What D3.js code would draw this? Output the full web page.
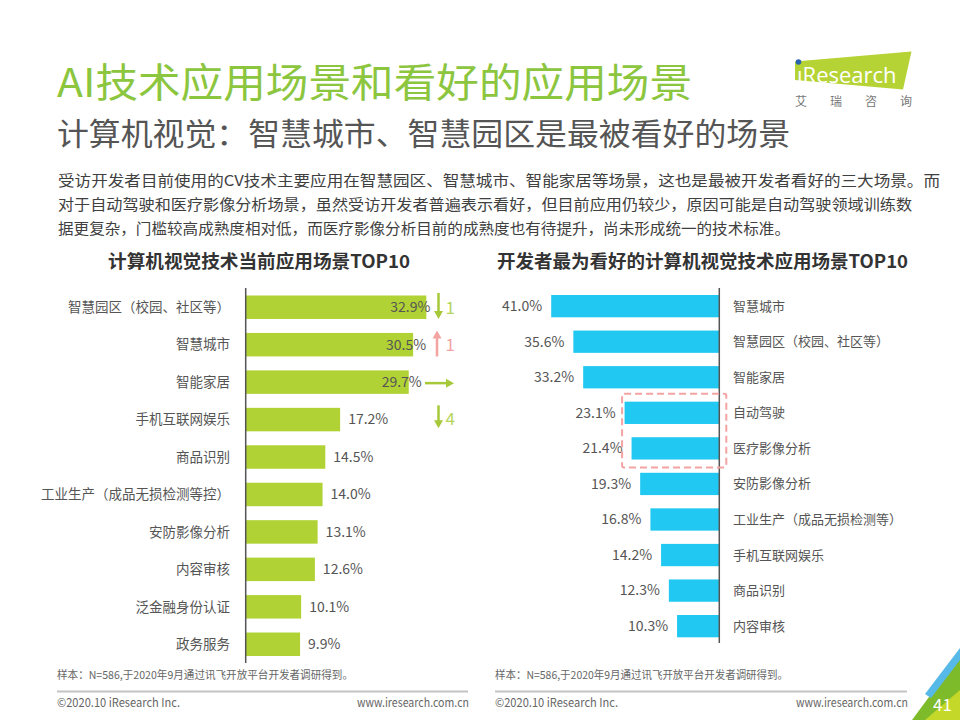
<!DOCTYPE html>
<html><head><meta charset="utf-8">
<script src="https://cdn.jsdelivr.net/npm/d3@7"></script>
<style>
html,body{margin:0;padding:0;background:#fff;}
svg{display:block;font-family:"Noto Sans CJK SC","Noto Sans",sans-serif;}
</style></head>
<body>
<svg id="chart" width="960" height="720"></svg>
<script>
// ---------- data ----------
const leftCategories = ["智慧园区（校园、社区等）","智慧城市","智能家居","手机互联网娱乐","商品识别","工业生产（成品无损检测等控）","安防影像分析","内容审核","泛金融身份认证","政务服务"];
const leftValues = [32.9,30.5,29.7,17.2,14.5,14.0,13.1,12.6,10.1,9.9];
const rankChangeDir = ["down","up","flat","down"];
const rankChangeText = ["1","1","","4"];

const rightCategories = ["智慧城市","智慧园区（校园、社区等）","智能家居","自动驾驶","医疗影像分析","安防影像分析","工业生产（成品无损检测等）","手机互联网娱乐","商品识别","内容审核"];
const rightValues = [41.0,35.6,33.2,23.1,21.4,19.3,16.8,14.2,12.3,10.3];
const highlighted = ["自动驾驶","医疗影像分析"];

const titleText = "AI技术应用场景和看好的应用场景";
const subtitleText = "计算机视觉：智慧城市、智慧园区是最被看好的场景";
const paragraphLines = [
  "受访开发者目前使用的CV技术主要应用在智慧园区、智慧城市、智能家居等场景，这也是最被开发者看好的三大场景。而",
  "对于自动驾驶和医疗影像分析场景，虽然受访开发者普遍表示看好，但目前应用仍较少，原因可能是自动驾驶领域训练数",
  "据更复杂，门槛较高成熟度相对低，而医疗影像分析目前的成熟度也有待提升，尚未形成统一的技术标准。"
];
const leftTitle = "计算机视觉技术当前应用场景TOP10";
const rightTitle = "开发者最为看好的计算机视觉技术应用场景TOP10";
const sourceNote = "样本：N=586,于2020年9月通过讯飞开放平台开发者调研得到。";
const copyright = "©2020.10 iResearch Inc.";
const website = "www.iresearch.com.cn";
const pageNumber = "41";

// ---------- drawing ----------
const svg = d3.select("#chart");
const GREEN = "#b1d234", BLUE = "#21c8f1", PINK = "#f4a3a3";
const TXT = "#555555";

// header
svg.append("text").attr("x",57).attr("y",97).attr("font-size",40).attr("fill","#8cc63f")
  .attr("textLength",635).attr("lengthAdjust","spacingAndGlyphs").text(titleText);
svg.append("text").attr("x",57).attr("y",145).attr("font-size",30.5).attr("fill","#555")
  .attr("textLength",733).attr("lengthAdjust","spacingAndGlyphs").text(subtitleText);
const lineEnds = [940, 912, 790];
paragraphLines.forEach((t,i)=>{
  svg.append("text").attr("x",58).attr("y",186+i*23.8).attr("font-size",15).attr("fill","#404040")
    .attr("textLength",lineEnds[i]-58).attr("lengthAdjust","spacingAndGlyphs").text(t);
});

// logo
const logo = svg.append("g");
logo.append("polygon").attr("points","795,61.5 911.5,51.5 903,89.5 795,80").attr("fill","#b5d334");
logo.append("text").attr("x",797).attr("y",83).attr("font-size",22).attr("fill","#fff")
  .attr("font-family","'Open Sans','Noto Sans',sans-serif").text("ıResearch");
logo.append("circle").attr("cx",798.5).attr("cy",62).attr("r",2.8).attr("fill","#2a63ad");
logo.append("text").attr("x",795).attr("y",106).attr("font-size",12).attr("fill","#777")
  .attr("textLength",117).attr("lengthAdjust","spacing").text("艾瑞咨询");

// chart titles
svg.append("text").attr("x",108).attr("y",268).attr("font-size",18).attr("font-weight","bold").attr("fill","#333")
  .attr("textLength",302).attr("lengthAdjust","spacingAndGlyphs").text(leftTitle);
svg.append("text").attr("x",497).attr("y",268).attr("font-size",18).attr("font-weight","bold").attr("fill","#333")
  .attr("textLength",411).attr("lengthAdjust","spacingAndGlyphs").text(rightTitle);

// ----- left chart -----
const xL = d3.scaleLinear().domain([0,33]).range([245.7, 245.7+33*5.49]);
const yL = d3.scaleBand().domain(leftCategories).range([295.5,656]).paddingInner(0.373).paddingOuter(0);
const gL = svg.append("g");
gL.selectAll("rect").data(leftValues).join("rect")
  .attr("x",xL(0)).attr("y",(d,i)=>yL(leftCategories[i]))
  .attr("width",d=>xL(d)-xL(0)).attr("height",yL.bandwidth()).attr("fill",GREEN);
gL.selectAll("text.cat").data(leftCategories).join("text").attr("class","cat")
  .attr("x",230).attr("y",d=>yL(d)+yL.bandwidth()/2).attr("dy","0.35em")
  .attr("text-anchor","end").attr("font-size",13.5).attr("fill",TXT).text(d=>d);
gL.selectAll("text.val").data(leftValues).join("text").attr("class","val")
  .attr("x",(d,i)=> i<3 ? xL(d)+ (i===0?4:13) : xL(d)+8)
  .attr("text-anchor",(d,i)=> i<3 ? "end" : "start")
  .attr("y",(d,i)=>yL(leftCategories[i])+yL.bandwidth()/2).attr("dy","0.35em")
  .attr("font-size",14).attr("fill",TXT).text(d=>d.toFixed(1)+"%");
gL.append("line").attr("x1",xL(0)).attr("x2",xL(0)).attr("y1",288).attr("y2",663)
  .attr("stroke","#555").attr("stroke-width",1.5);

// rank change arrows
const ax = 438.5;
rankChangeDir.forEach((dir,i)=>{
  const top = yL(leftCategories[i]) - 2.5, bot = yL(leftCategories[i]) + yL.bandwidth() - (i===3?3:0);
  const mid = yL(leftCategories[i]) + yL.bandwidth()/2;
  const col = dir==="up" ? PINK : "#a6c93a";
  const numCol = dir==="up" ? PINK : "#b5d55c";
  if (dir==="down") {
    gL.append("line").attr("x1",ax).attr("x2",ax).attr("y1",top).attr("y2",bot-7).attr("stroke",col).attr("stroke-width",2.5);
    gL.append("polygon").attr("points",`${ax-4.5},${bot-8} ${ax+4.5},${bot-8} ${ax},${bot}`).attr("fill",col);
  } else if (dir==="up") {
    gL.append("line").attr("x1",ax-1.5).attr("x2",ax-1.5).attr("y1",bot).attr("y2",top+7).attr("stroke",col).attr("stroke-width",2.5);
    gL.append("polygon").attr("points",`${ax-6},${top+8} ${ax+3},${top+8} ${ax-1.5},${top}`).attr("fill",col);
  } else {
    gL.append("line").attr("x1",425).attr("x2",447).attr("y1",mid+1).attr("y2",mid+1).attr("stroke",col).attr("stroke-width",2.5);
    gL.append("polygon").attr("points",`${446},${mid-3.5} ${446},${mid+5.5} ${454},${mid+1}`).attr("fill",col);
  }
  if (rankChangeText[i]) {
    gL.append("text").attr("x",445.5).attr("y",mid+(i===3?-1:0)).attr("dy","0.38em").attr("font-size",17)
      .attr("fill",numCol).text(rankChangeText[i]);
  }
});

// ----- right chart -----
const xR = d3.scaleLinear().domain([0,41]).range([719.3, 719.3-41*4.1]);
const yR = d3.scaleBand().domain(rightCategories).range([295,637.3]).paddingInner(0.373).paddingOuter(0);
const gR = svg.append("g");
gR.selectAll("rect").data(rightValues).join("rect")
  .attr("x",d=>xR(d)).attr("y",(d,i)=>yR(rightCategories[i]))
  .attr("width",d=>xR(0)-xR(d)).attr("height",yR.bandwidth()).attr("fill",BLUE);
gR.selectAll("text.cat").data(rightCategories).join("text").attr("class","cat")
  .attr("x",733).attr("y",d=>yR(d)+yR.bandwidth()/2).attr("dy","0.35em")
  .attr("font-size",13).attr("fill",TXT).text(d=>d);
gR.selectAll("text.val").data(rightValues).join("text").attr("class","val")
  .attr("x",d=>xR(d)-9).attr("text-anchor","end")
  .attr("y",(d,i)=>yR(rightCategories[i])+yR.bandwidth()/2).attr("dy","0.35em")
  .attr("font-size",14).attr("fill",TXT).text(d=>d.toFixed(1)+"%");
gR.append("line").attr("x1",xR(0)).attr("x2",xR(0)).attr("y1",288).attr("y2",643)
  .attr("stroke","#555").attr("stroke-width",1.5);
// highlight box
const hv = highlighted.map(c=>rightValues[rightCategories.indexOf(c)]);
const hTop = yR(highlighted[0]) - 8, hBot = yR(highlighted[highlighted.length-1]) + yR.bandwidth() + 8;
const hLeft = xR(d3.max(hv)) - 2.5, hRight = xR(0) + 7;
gR.append("rect").attr("x",hLeft).attr("y",hTop).attr("width",hRight-hLeft).attr("height",hBot-hTop)
  .attr("rx",2).attr("fill","none").attr("stroke",PINK).attr("stroke-width",2).attr("stroke-dasharray","7,4");

// ----- footers -----
[[57,468,353],[495,907,788]].forEach(([x0,x1,nEnd])=>{
  svg.append("text").attr("x",x0).attr("y",679).attr("font-size",11).attr("fill","#666")
    .attr("textLength",nEnd-x0).attr("lengthAdjust","spacingAndGlyphs").text(sourceNote);
  svg.append("line").attr("x1",x0).attr("x2",x1).attr("y1",691.5).attr("y2",691.5).attr("stroke","#c4c4c4").attr("stroke-width",2);
  svg.append("text").attr("x",x0).attr("y",707).attr("font-size",12).attr("fill","#666")
    .attr("textLength",123).attr("lengthAdjust","spacingAndGlyphs").text(copyright);
  svg.append("text").attr("x",x1+1).attr("y",707).attr("font-size",12).attr("fill","#666").attr("text-anchor","end")
    .attr("textLength",112).attr("lengthAdjust","spacingAndGlyphs").text(website);
});

// corner decoration
svg.append("polygon").attr("points","912,720 960,655 960,720").attr("fill","#7dbb2a");
svg.append("polygon").attr("points","925,720 960,690 960,720").attr("fill","#c4d82a");
svg.append("polygon").attr("points","925,694 960,648 960,660 931,698").attr("fill","#56b9e8");
svg.append("text").attr("x",933).attr("y",711).attr("font-size",17).attr("fill","#fff").text(pageNumber);
</script>
</body></html>
